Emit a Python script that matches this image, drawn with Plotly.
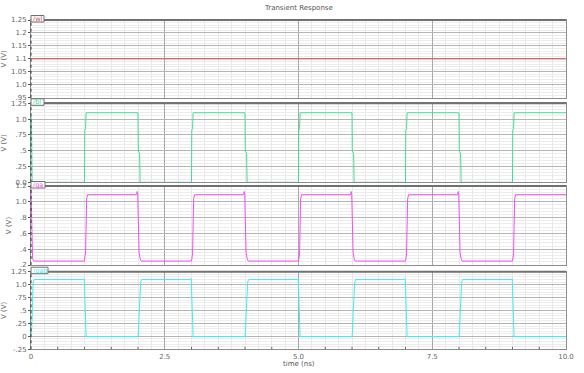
import plotly.graph_objects as go

# ---------------- data ----------------
x_tickvals = [0, 2.5, 5, 7.5, 10]
x_ticktext = ["0", "2.5", "5.0", "7.5", "10.0"]
x_minor_ticks = [0.5, 1.0, 1.5, 2.0, 3.0, 3.5, 4.0, 4.5, 5.5, 6.0, 6.5, 7.0,
                 8.0, 8.5, 9.0, 9.5]

wl_t = [0.0, 10.0]
wl_v = [1.1, 1.1]

bl_t = [0.0, 0.01, 0.02, 0.03,
        1.0, 1.005, 1.02, 1.03, 2.0, 2.005, 2.03, 2.04,
        3.0, 3.005, 3.02, 3.03, 4.0, 4.005, 4.03, 4.04,
        5.0, 5.005, 5.02, 5.03, 6.0, 6.005, 6.03, 6.04,
        7.0, 7.005, 7.02, 7.03, 8.0, 8.005, 8.03, 8.04,
        9.0, 9.005, 9.02, 9.03, 10.0]
bl_v = [1.05, 0.9, 0.05, 0.0,
        0.0, 0.82, 0.85, 1.1, 1.1, 0.5, 0.45, 0.0,
        0.0, 0.82, 0.85, 1.1, 1.1, 0.5, 0.45, 0.0,
        0.0, 0.82, 0.85, 1.1, 1.1, 0.5, 0.45, 0.0,
        0.0, 0.82, 0.85, 1.1, 1.1, 0.5, 0.45, 0.0,
        0.0, 0.82, 0.85, 1.1, 1.1]

qa_t = [0.0, 0.01, 0.015, 0.03, 0.05,
        1.0, 1.01, 1.02, 1.04, 1.06, 1.97, 1.985, 1.995, 2.02, 2.04, 2.06,
        3.0, 3.01, 3.02, 3.04, 3.06, 3.97, 3.985, 3.995, 4.02, 4.04, 4.06,
        5.0, 5.01, 5.02, 5.04, 5.06, 5.97, 5.985, 5.995, 6.02, 6.04, 6.06,
        7.0, 7.01, 7.02, 7.04, 7.06, 7.97, 7.985, 7.995, 8.02, 8.04, 8.06,
        9.0, 9.01, 9.02, 9.04, 9.06, 10.0]
qa_v = [1.16, 0.75, 0.7, 0.28, 0.25,
        0.25, 0.32, 0.34, 1.04, 1.09, 1.09, 1.13, 1.1, 0.36, 0.28, 0.25,
        0.25, 0.32, 0.34, 1.04, 1.09, 1.09, 1.13, 1.1, 0.36, 0.28, 0.25,
        0.25, 0.32, 0.34, 1.04, 1.09, 1.09, 1.13, 1.1, 0.36, 0.28, 0.25,
        0.25, 0.32, 0.34, 1.04, 1.09, 1.09, 1.13, 1.1, 0.36, 0.28, 0.25,
        0.25, 0.32, 0.34, 1.04, 1.09, 1.09]

qab_t = [0.0, 0.01, 0.02, 0.04, 0.06,
         0.98, 0.995, 1.01, 1.03, 2.0, 2.01, 2.02, 2.05, 2.07,
         2.98, 2.995, 3.01, 3.03, 4.0, 4.01, 4.02, 4.05, 4.07,
         4.98, 4.995, 5.01, 5.03, 6.0, 6.01, 6.02, 6.05, 6.07,
         6.98, 6.995, 7.01, 7.03, 8.0, 8.01, 8.02, 8.05, 8.07,
         8.98, 8.995, 9.01, 9.03, 10.0]
qab_v = [0.0, 0.1, 0.35, 1.05, 1.1,
         1.1, 1.12, 0.5, -0.005, -0.005, 0.1, 0.4, 1.05, 1.1,
         1.1, 1.12, 0.5, -0.005, -0.005, 0.1, 0.4, 1.05, 1.1,
         1.1, 1.12, 0.5, -0.005, -0.005, 0.1, 0.4, 1.05, 1.1,
         1.1, 1.12, 0.5, -0.005, -0.005, 0.1, 0.4, 1.05, 1.1,
         1.1, 1.12, 0.5, -0.005, -0.005]

wl_ticks = [0.95, 1.0, 1.05, 1.1, 1.15, 1.2, 1.25]
wl_ticktext = [".95", "1.0", "1.05", "1.1", "1.15", "1.2", "1.25"]
bl_ticks = [0.0, 0.25, 0.5, 0.75, 1.0, 1.25]
bl_ticktext = ["0.0", ".25", ".5", ".75", "1.0", "1.25"]
qa_ticks = [0.2, 0.4, 0.6, 0.8, 1.0, 1.2]
qa_ticktext = [".2", ".4", ".6", ".8", "1.0", "1.2"]
qab_ticks = [-0.25, 0.0, 0.25, 0.5, 0.75, 1.0, 1.25]
qab_ticktext = ["-.25", "0", ".25", ".5", ".75", "1.0", "1.25"]

# ---------------- layout helpers ----------------
W, H = 584, 373
L, R = 31, 566
GRAY = "#666666"
FONT = "DejaVu Sans"

panels = [
    dict(t=wl_t, v=wl_v, name="/wl", color="#dc4a4a", top=20, bot=97.7,
         rng=[0.95, 1.25], tv=wl_ticks, tt=wl_ticktext, minor=0.01, tabw=13),
    dict(t=bl_t, v=bl_v, name="/bl", color="#45da98", top=103.3, bot=182.3,
         rng=[0.0, 1.25], tv=bl_ticks, tt=bl_ticktext, minor=0.05, tabw=13),
    dict(t=qa_t, v=qa_v, name="/qa", color="#f050f0", top=186, bot=265,
         rng=[0.2, 1.2], tv=qa_ticks, tt=qa_ticktext, minor=0.04, tabw=14),
    dict(t=qab_t, v=qab_v, name="/qab", color="#3eeeee", top=271.7, bot=349.3,
         rng=[-0.25, 1.25], tv=qab_ticks, tt=qab_ticktext, minor=0.05, tabw=17),
]


def py(p):
    return 1 - p / H


fig = go.Figure()
shapes = []
annotations = []
layout = {}

for i, p in enumerate(panels):
    n = "" if i == 0 else str(i + 1)
    fig.add_trace(go.Scatter(
        x=p["t"], y=p["v"], mode="lines",
        line=dict(color=p["color"], width=1),
        xaxis="x" + n, yaxis="y" + n, showlegend=False, hoverinfo="skip"))
    last = (i == len(panels) - 1)
    layout["xaxis" + n] = dict(
        domain=[L / W, R / W], range=[0, 10], anchor="y" + n,
        automargin=False,
        tickmode="array", tickvals=x_tickvals, ticktext=x_ticktext,
        showticklabels=last, ticks="",
        showgrid=True, gridcolor="#a8a8a8", gridwidth=1,
        minor=dict(tickmode="linear", tick0=0, dtick=0.25, showgrid=True,
                   gridcolor="#e6e6e6", gridwidth=1),
        showline=True, linecolor="#8c8c8c", linewidth=1, mirror=True,
        zeroline=False, fixedrange=True,
        tickfont=dict(family=FONT, size=7, color=GRAY),
    )
    layout["yaxis" + n] = dict(
        domain=[py(p["bot"]), py(p["top"])], range=p["rng"], anchor="x" + n,
        automargin=False,
        tickmode="array", tickvals=p["tv"], ticktext=p["tt"],
        ticks="outside", ticklen=2, tickcolor="#555555",
        showgrid=True, gridcolor="#b4b4b4", gridwidth=1,
        minor=dict(tickmode="linear", tick0=p["rng"][0], dtick=p["minor"],
                   showgrid=True, gridcolor="#ececec", gridwidth=1),
        showline=True, linecolor="#8c8c8c", linewidth=1, mirror=True,
        zeroline=False, fixedrange=True,
        tickfont=dict(family=FONT, size=7, color=GRAY),
        title=dict(text="V (V)", font=dict(family=FONT, size=7, color=GRAY),
                   standoff=3),
    )
    # dotted left axis line
    shapes.append(dict(type="line", xref="paper", yref="paper",
                       x0=L / W, x1=L / W, y0=py(p["bot"]), y1=py(p["top"]),
                       line=dict(color="#333333", width=1, dash="dot")))
    # thick top border
    shapes.append(dict(type="line", xref="paper", yref="paper",
                       x0=L / W, x1=R / W, y0=py(p["top"]), y1=py(p["top"]),
                       line=dict(color="#707070", width=2)))
    # label tab
    shapes.append(dict(type="rect", xref="paper", yref="paper",
                       x0=L / W, x1=(L + p["tabw"]) / W,
                       y0=py(p["top"] + 2), y1=py(p["top"] - 4.5),
                       fillcolor="white", line=dict(color="#707070", width=1)))
    annotations.append(dict(text=p["name"], xref="paper", yref="paper",
                            x=(L + 1) / W, y=py(p["top"] - 1.2),
                            xanchor="left", yanchor="middle", showarrow=False,
                            borderpad=0,
                            font=dict(family=FONT, size=6.5, color=p["color"])))

# small inside tick marks along the bottom time axis
bottom_h = panels[-1]["bot"] - panels[-1]["top"]
for xt in x_minor_ticks:
    shapes.append(dict(type="line", xref="x4", yref="y4 domain",
                       x0=xt, x1=xt, y0=0, y1=2.5 / bottom_h,
                       line=dict(color="#666666", width=1)))

annotations.append(dict(text="Transient Response", xref="paper", yref="paper",
                        x=(L + R) / 2 / W, y=py(8), xanchor="center",
                        yanchor="middle", showarrow=False,
                        font=dict(family=FONT, size=7, color="#555555")))
annotations.append(dict(text="time (ns)", xref="paper", yref="paper",
                        x=(L + R) / 2 / W, y=py(364), xanchor="center",
                        yanchor="middle", showarrow=False,
                        font=dict(family=FONT, size=7, color="#555555")))

fig.update_layout(
    width=W, height=H, margin=dict(l=0, r=0, t=0, b=0, autoexpand=False),
    paper_bgcolor="white", plot_bgcolor="white",
    shapes=shapes, annotations=annotations, **layout)

fig.write_html("out.html")
